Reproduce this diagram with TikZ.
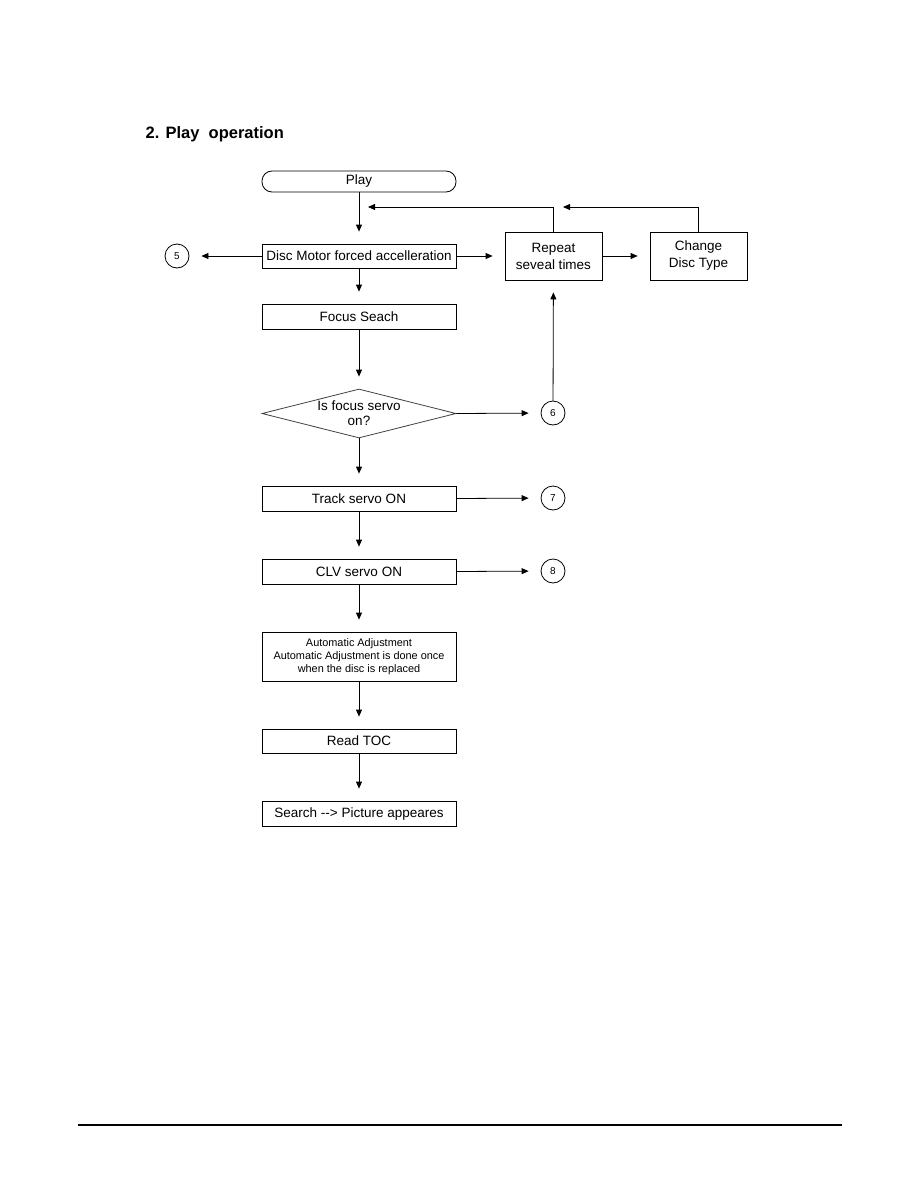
\documentclass[tikz,border=0pt]{standalone}
\usepackage{fontspec}
\setmainfont{Liberation Sans}
\usetikzlibrary{shapes.geometric,arrows.meta}

\begin{document}
\begin{tikzpicture}[x=1pt,y=-1pt,
    >={Triangle[length=7pt,width=6pt]},
    every path/.style={line width=0.8pt},
    box/.style={draw, rectangle, inner sep=0pt, minimum width=194pt, minimum height=25pt,
                align=center, font=\fontsize{13.5}{17}\selectfont},
    sidebox/.style={box, minimum width=97pt, minimum height=48pt},
    terminal/.style={box, rounded corners=10pt, minimum height=21pt},
    decision/.style={draw=black!75, diamond, aspect=4, inner sep=-6pt, minimum width=194pt,
                     minimum height=49pt, align=center, font=\fontsize{13.5}{15}\selectfont},
    connector/.style={draw, circle, minimum size=24pt, inner sep=0pt, font=\fontsize{10}{11}\selectfont},
    flow/.style={->, shorten >=12pt}]
  \useasboundingbox (0,0) rectangle (918,1188);

  % Title
  \node[anchor=base west, font=\bfseries\fontsize{16.5}{18}\selectfont] (title) at (142,139) {2. Play~ operation};

  % Main column
  \node[terminal] (play) at (359,181.5) {Play};
  \node[box, minimum height=24pt] (disc) at (359,256) {Disc Motor forced accelleration};
  \node[box] (focus) at (359,316.5) {Focus Seach};
  \node[decision] (servo) at (359,413.5) {Is focus servo\\on?};
  \node[box] (track) at (359,498.5) {Track servo ON};
  \node[box] (clv) at (359,571.5) {CLV servo ON};
  \node[box, minimum height=49pt, font=\fontsize{10.9}{13}\selectfont] (adjust) at (359,656.5)
    {Automatic Adjustment\\Automatic Adjustment is done once\\when the disc is replaced};
  \node[box, minimum height=24pt] (toc) at (359,741) {Read TOC};
  \node[box] (search) at (359,813.5) {Search -{}-> Picture appeares};

  % Retry boxes
  \node[sidebox] (repeat) at (553.5,256) {Repeat\\seveal times};
  \node[sidebox] (change) at (698.5,256) {Change\\Disc Type};

  % Connectors to other charts
  \node[connector] (c5) at (177,256) {5};
  \node[connector] (c6) at (553,413) {6};
  \node[connector] (c7) at (553,498) {7};
  \node[connector] (c8) at (553,571) {8};

  % Loop back points
  \coordinate (backA) at (368,207);
  \coordinate (backB) at (563,207);

  % Main flow
  \draw[flow] (play) -- (disc);
  \draw[flow] (disc) -- (focus);
  \draw[flow] (focus) -- (servo);
  \draw[flow] (servo) -- (track);
  \draw[flow] (track) -- (clv);
  \draw[flow] (clv) -- (adjust);
  \draw[flow] (adjust) -- (toc);
  \draw[flow] (toc) -- (search);

  % Side branches
  \draw[flow] (disc.west) -- (c5);
  \draw[flow] (disc.east) -- (repeat);
  \draw[flow] (repeat) -- (change);
  \draw[flow] (servo.east) -- (c6);
  \draw[flow] (c6) -- (repeat);
  \draw[flow] (track.east) -- (c7);
  \draw[flow] (clv.east) -- (c8);

  % Retry loops
  \draw[->] (repeat.north) |- (backA);
  \draw[->] (change.north) |- (backB);

  % Footer rule
  \coordinate (ruleL) at (78,1125);
  \coordinate (ruleR) at (842,1125);
  \draw[line width=1.2pt] (ruleL) -- (ruleR);
\end{tikzpicture}
\end{document}
